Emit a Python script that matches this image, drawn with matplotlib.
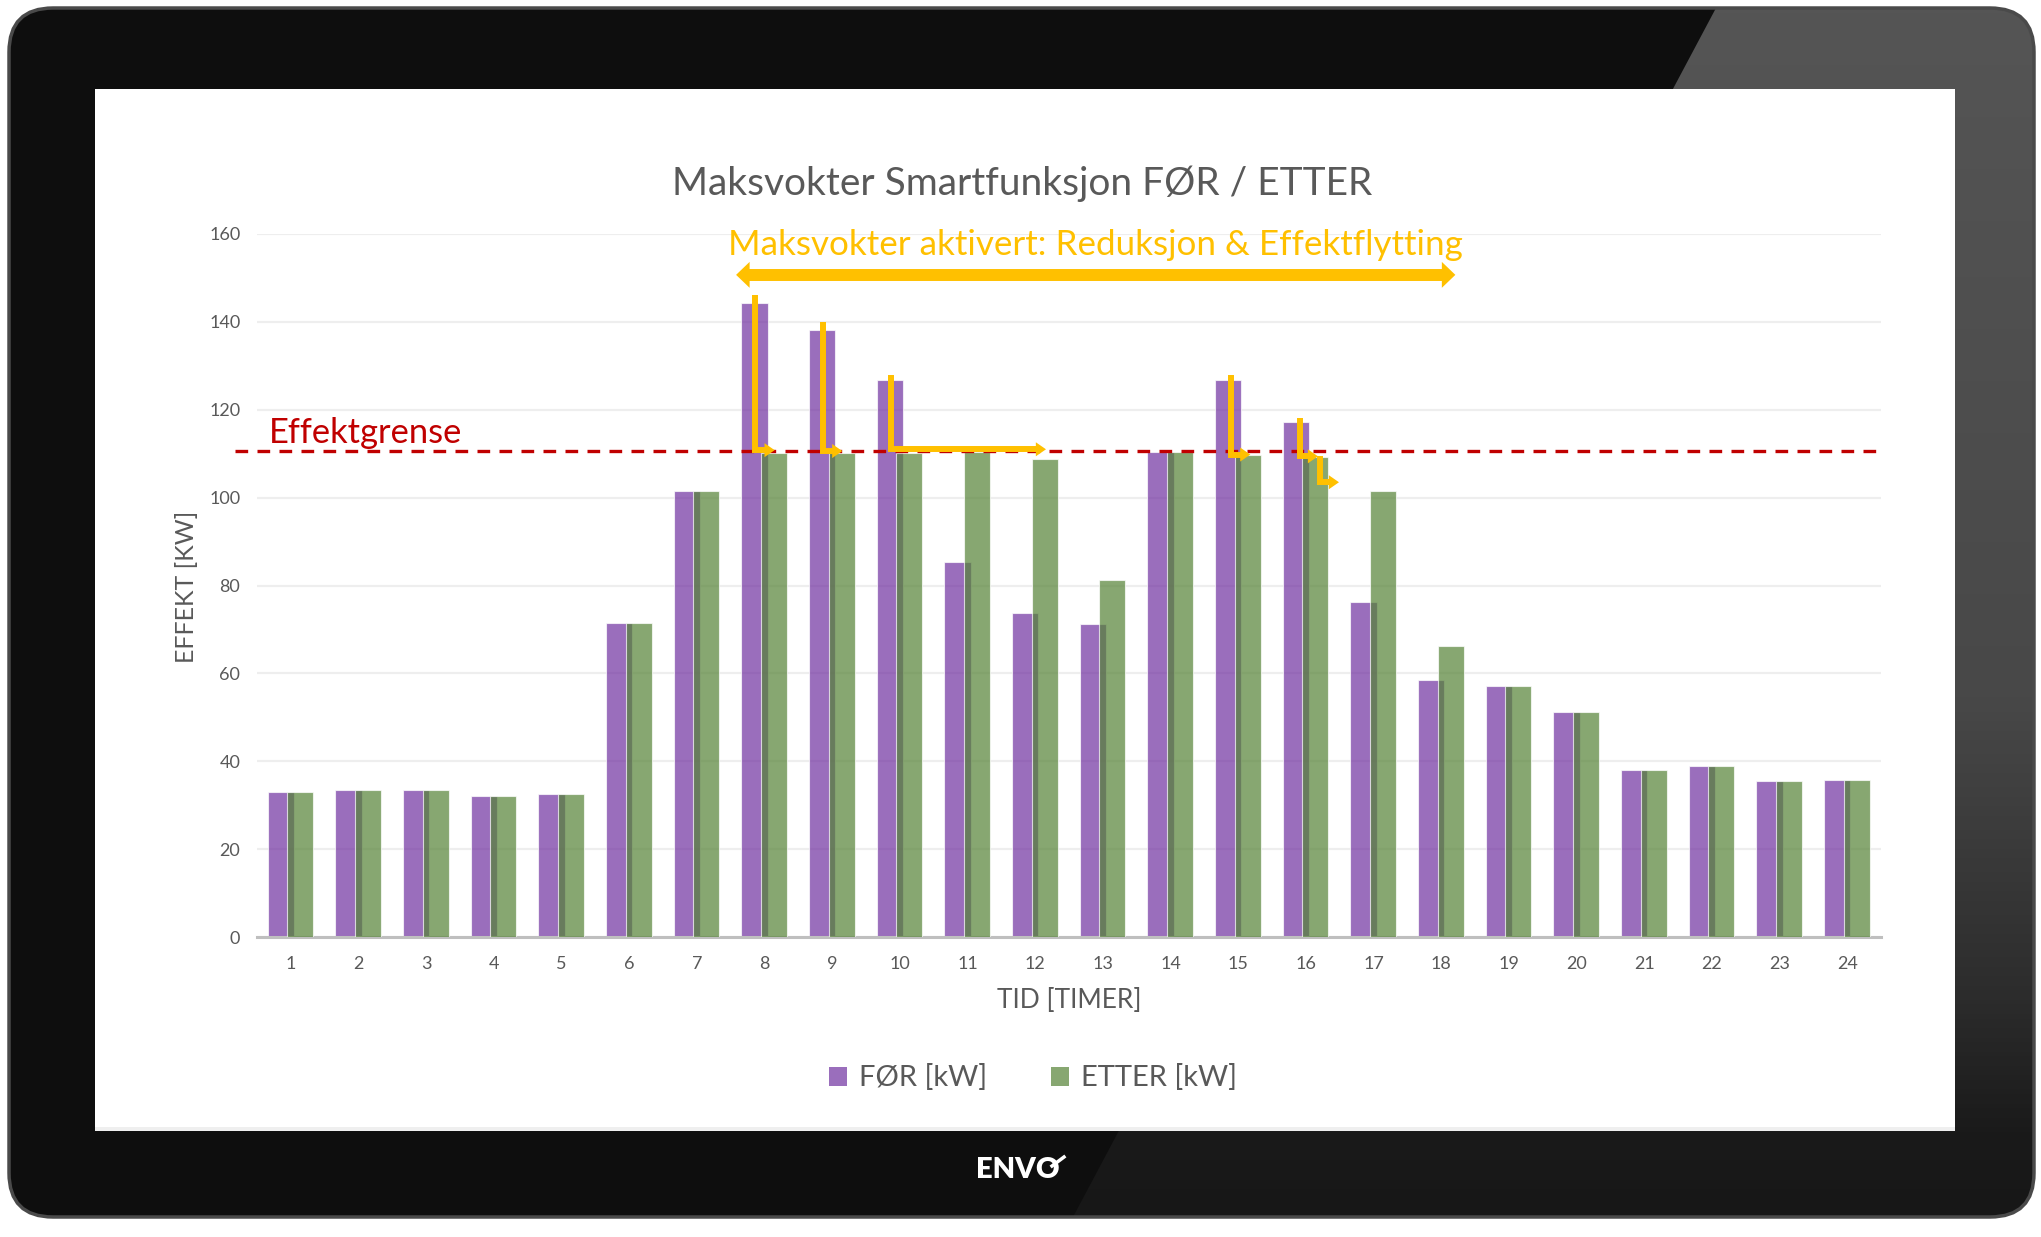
import numpy as np
import matplotlib
matplotlib.use("Agg")
import matplotlib.pyplot as plt
from matplotlib.patches import FancyBboxPatch, Polygon, Patch, Rectangle

# data
hours = list(range(1, 25))
for_kw = [33, 33.5, 33.5, 32, 32.5, 71.5, 101.6, 144.4, 138.2, 126.7, 85.3, 73.7,
          71.3, 110.3, 126.7, 117.2, 76.2, 58.5, 57.2, 51.2, 38, 38.9, 35.5, 35.8]
etter_kw = [33, 33.5, 33.5, 32, 32.5, 71.5, 101.6, 110.2, 110.1, 110.2, 110.3, 108.8,
            81.3, 110.3, 109.6, 109.3, 101.4, 66.2, 57.2, 51.2, 38, 38.9, 35.5, 35.8]
limit = 110.5

title = "Maksvokter Smartfunksjon FØR / ETTER"
note = "Maksvokter aktivert: Reduksjon & Effektflytting"
series_names = ["FØR [kW]", "ETTER [kW]"]

# annotation arrows (hour axis, kW)
steps = [
    [(7.865, 146.1), (7.865, 110.8), (8.15, 110.8)],
    [(8.86, 140.0), (8.86, 110.6), (9.15, 110.6)],
    [(9.87, 128.0), (9.87, 111.0), (12.16, 111.0)],
    [(14.90, 128.0), (14.90, 109.8), (15.18, 109.8)],
    [(15.92, 118.2), (15.92, 109.4), (16.18, 109.4)],
    [(16.21, 109.4), (16.21, 103.5), (16.49, 103.5)],
]
span = (7.58, 18.21, 150.7)

GREY = "#595959"
ORANGE = "#FFC000"
FONT = "Lato"

fig = plt.figure(figsize=(20.41, 12.37), dpi=100)

# tablet frame, drawn in pixel coords
bg = fig.add_axes([0, 0, 1, 1])
bg.set_xlim(0, 2041)
bg.set_ylim(1237, 0)
bg.axis("off")

body = FancyBboxPatch((9, 8), 2025, 1209, boxstyle="round,pad=0,rounding_size=44",
                      fc="#0e0e0e", ec="none")
bg.add_patch(body)
yy_px = np.linspace(8, 1217, 256)
shade = np.interp(yy_px, [8, 700, 1000, 1135, 1217], [0x55, 0x48, 0x2c, 0x1a, 0x17]) / 255.0
grad = np.dstack([shade[:, None]] * 3)
img = bg.imshow(grad, extent=[9, 2034, 1217, 8], aspect="auto", zorder=1)
img.set_clip_path(body)
dark = Polygon([(0, 0), (1716, 0), (1716, 8), (1073, 1217), (1073, 1237), (0, 1237)],
               closed=True, fc="#0e0e0e", ec="none", zorder=2)
bg.add_patch(dark)
dark.set_clip_path(body)
bg.add_patch(FancyBboxPatch((9, 8), 2025, 1209, boxstyle="round,pad=0,rounding_size=44",
                            fc="none", ec="#4a4a4a", lw=2.5, zorder=3))
bg.add_patch(Rectangle((95, 89), 1860, 1042, fc="white", ec="none", zorder=4))
bg.add_patch(Rectangle((95, 1127), 1860, 4, fc="#efefef", ec="none", zorder=5))
bg.text(1018, 1170, "ENVO", color="white", fontsize=21, fontweight="heavy",
        family=FONT, ha="center", va="center", zorder=6)
bg.plot([1052, 1064], [1166, 1157], color="white", lw=2.5, zorder=6)

# chart
ax = fig.add_axes([257 / 2041, 1 - 937 / 1237, (1881 - 257) / 2041, (937 - 234) / 1237])
ax.set_facecolor("white")
x = np.array(hours)
ax.bar(x - 0.149, for_kw, width=0.39, color="#7030A0", alpha=0.7,
       edgecolor=(1, 1, 1, 0.4), lw=0.8, zorder=2)
ax.bar(x + 0.142, etter_kw, width=0.384, color="#548235", alpha=0.7,
       edgecolor=(1, 1, 1, 0.4), lw=0.8, zorder=3)

ax.set_xlim(0.5, 24.5)
ax.set_ylim(0, 160)
ax.set_xticks(hours)
ax.set_yticks(range(0, 161, 20))
ax.grid(axis="y", color="#eeeeee", lw=1.6)
ax.set_axisbelow(True)
for s in ["top", "right", "left"]:
    ax.spines[s].set_visible(False)
ax.spines["bottom"].set_color("#bfbfbf")
ax.spines["bottom"].set_linewidth(2.2)
ax.tick_params(length=0, labelsize=13, colors=GREY)
ax.tick_params(axis="y", pad=12)
ax.tick_params(axis="x", pad=14)
for lab in ax.get_xticklabels() + ax.get_yticklabels():
    lab.set_family(FONT)

# limit line
ax.plot([0.17, 24.5], [limit, limit], color="#C00000", lw=2.4, dashes=(3.8, 2.8),
        clip_on=False, zorder=5)
ax.text(0.67, 112.5, "Effektgrense", color="#C00000", fontsize=24.8, family=FONT,
        ha="left", va="baseline", zorder=6)


def head(x_tip, y, length, half, direction=1):
    ax.add_patch(Polygon([(x_tip, y), (x_tip - direction * length, y + half),
                          (x_tip - direction * length, y - half)],
                         closed=True, fc=ORANGE, ec="none", clip_on=False, zorder=7))


for pts in steps:
    xs = [p[0] for p in pts]
    ys = [p[1] for p in pts]
    xs[-1] -= 0.09
    ax.plot(xs, ys, color=ORANGE, lw=4.3, solid_capstyle="butt",
            solid_joinstyle="miter", clip_on=False, zorder=7)
    head(pts[-1][0], pts[-1][1], 0.15, 1.6)

x0, x1, yy = span
ax.plot([x0 + 0.1, x1 - 0.1], [yy, yy], color=ORANGE, lw=8.6, solid_capstyle="butt",
        clip_on=False, zorder=7)
head(x0, yy, 0.2, 2.95, direction=-1)
head(x1, yy, 0.2, 2.95, direction=1)
ax.text((x0 + x1) / 2, 155.2, note, color=ORANGE, fontsize=25.2, family=FONT,
        ha="center", va="baseline", zorder=7)

# titles
fig.text(1022 / 2041, 1 - 195 / 1237, title, color=GREY, fontsize=28, family=FONT,
         ha="center", va="baseline")
fig.text(186 / 2041, 1 - 587 / 1237, "EFFEKT [KW]", color=GREY, fontsize=18,
         family=FONT, rotation=90, ha="center", va="center")
fig.text(1069 / 2041, 1 - 1000 / 1237, "TID [TIMER]", color=GREY, fontsize=19,
         family=FONT, ha="center", va="center")

handles = [Patch(facecolor="#7030A0", alpha=0.7, label=series_names[0]),
           Patch(facecolor="#548235", alpha=0.7, label=series_names[1])]
fig.legend(handles=handles, loc="center", bbox_to_anchor=(1033 / 2041, 1 - 1078 / 1237),
           ncol=2, frameon=False, handlelength=0.62, handleheight=0.62,
           handletextpad=0.4, columnspacing=2.2, labelcolor=GREY,
           prop={"family": FONT, "size": 21})

fig.savefig("out.png", dpi=100)
